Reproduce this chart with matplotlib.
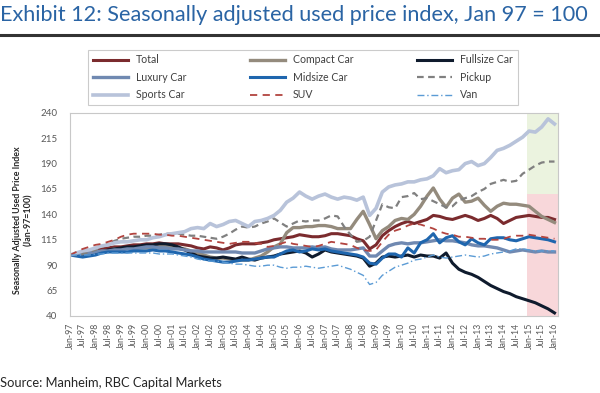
import numpy as np
import pandas as pd
import matplotlib
matplotlib.use("Agg")
import matplotlib.pyplot as plt
from matplotlib.lines import Line2D

plt.rcParams['font.family'] = ['Lato', 'DejaVu Sans']

# quarterly points, Jan-97 .. Jan-16 (index, Jan 97 = 100)
dates = pd.date_range("1997-01-01", "2016-01-01", freq="QS")

total = [100, 101, 102, 103, 105, 106, 107, 108, 108, 109, 110, 110,
         111, 111, 112, 111, 111, 111, 110, 109, 107, 106, 108, 107,
         105, 107, 110, 111, 111, 111, 112, 113, 115, 116, 117, 118,
         120, 119, 118, 118, 119, 121, 121, 120, 119, 116, 114, 106,
         110, 119, 124, 128, 131, 133, 131, 133, 135, 139, 138, 136,
         135, 137, 139, 137, 134, 136, 139, 136, 131, 134, 137, 138,
         139, 138, 137, 137, 135]
compact = [100, 100, 100, 101, 102, 103, 104, 106, 106, 107, 106, 107,
           107, 108, 108, 108, 108, 107, 106, 104, 102, 100, 98, 97,
           97, 96, 95, 95, 95, 97, 99, 103, 108, 111, 122, 127,
           127, 128, 128, 129, 129, 128, 126, 126, 126, 135, 143, 130,
           116, 124, 128, 134, 136, 135, 140, 148, 158, 166, 155, 147,
           156, 160, 152, 153, 156, 149, 143, 148, 151, 150, 150, 149,
           148, 143, 138, 135, 132]
fullsize = [100, 100, 99, 100, 101, 103, 105, 106, 107, 108, 108, 109,
            110, 110, 111, 111, 110, 108, 105, 102, 99, 98, 97, 97,
            98, 97, 96, 98, 96, 95, 97, 98, 99, 101, 102, 103,
            104, 102, 98, 101, 105, 103, 102, 101, 100, 99, 97, 89,
            92, 98, 99, 98, 99, 100, 98, 100, 99, 99, 97, 102,
            92, 86, 83, 81, 78, 74, 70, 67, 64, 62, 59, 57,
            55, 53, 50, 47, 43]
luxury = [100, 100, 101, 102, 103, 104, 104, 105, 105, 106, 106, 107,
          108, 108, 107, 107, 106, 106, 105, 104, 104, 103, 103, 103,
          103, 103, 103, 102, 102, 102, 104, 106, 107, 108, 108, 107,
          107, 107, 108, 107, 108, 106, 105, 105, 105, 106, 107, 99,
          99, 104, 109, 111, 112, 111, 112, 112, 113, 114, 115, 114,
          114, 113, 112, 110, 109, 109, 108, 107, 105, 103, 104, 105,
          104, 103, 104, 103, 103]
midsize = [100, 99, 98, 99, 100, 102, 103, 103, 103, 103, 104, 104,
           104, 105, 104, 104, 103, 102, 101, 100, 98, 96, 95, 94,
           93, 93, 94, 95, 95, 96, 97, 98, 98, 101, 104, 105,
           103, 104, 106, 105, 106, 104, 103, 102, 101, 100, 98, 92,
           91, 97, 101, 101, 98, 107, 102, 112, 115, 121, 112, 117,
           119, 113, 110, 116, 112, 110, 116, 117, 117, 115, 114, 116,
           118, 117, 116, 115, 113]
pickup = [100, 100, 101, 103, 105, 108, 111, 114, 116, 117, 118, 118,
          119, 119, 120, 121, 121, 121, 120, 119, 119, 118, 117, 116,
          118, 121, 125, 128, 127, 128, 131, 133, 136, 132, 128, 131,
          134, 133, 134, 134, 136, 139, 138, 128, 120, 113, 114, 118,
          134, 150, 147, 146, 157, 158, 161, 155, 156, 153, 150, 147,
          148, 154, 156, 158, 162, 165, 170, 172, 174, 172, 173, 180,
          184, 188, 191, 192, 192]
sports = [100, 102, 104, 105, 107, 109, 110, 112, 113, 113, 114, 115,
          115, 117, 118, 120, 121, 122, 123, 126, 127, 126, 131, 128,
          130, 133, 134, 131, 128, 133, 134, 136, 139, 144, 152, 156,
          162, 158, 155, 158, 160, 157, 155, 157, 156, 154, 157, 139,
          146, 162, 167, 169, 170, 172, 172, 174, 175, 178, 185, 181,
          183, 184, 190, 192, 188, 190, 196, 203, 205, 208, 212, 216,
          222, 221, 226, 234, 229]
suv = [100, 103, 106, 108, 110, 111, 113, 115, 118, 120, 121, 121,
       121, 121, 120, 120, 119, 119, 118, 117, 116, 115, 114, 113,
       112, 111, 112, 113, 113, 112, 111, 108, 109, 111, 113, 111,
       110, 109, 108, 109, 111, 113, 112, 111, 110, 107, 105, 104,
       105, 113, 120, 124, 126, 129, 131, 130, 128, 126, 123, 121,
       120, 118, 118, 117, 116, 116, 115, 115, 116, 118, 119, 119,
       120, 119, 118, 117, 116]
van = [100, 100, 100, 100, 101, 101, 102, 102, 102, 102, 102, 102,
       102, 102, 101, 101, 101, 100, 99, 98, 96, 95, 94, 94,
       93, 92, 91, 91, 90, 89, 89, 90, 90, 88, 87, 88,
       88, 89, 88, 87, 88, 89, 90, 88, 86, 83, 80, 71,
       73, 80, 84, 88, 90, 92, 95, 96, 98, 100, 98, 97,
       98, 99, 100, 99, 98, 99, 101, 102, 103, 104, 106, 106,
       105, 104, 104, 104, 104]

shade_start = pd.Timestamp("2014-12-01")

fig = plt.figure(figsize=(6.0, 3.93), dpi=100)
ax = fig.add_axes([0.1167, 0.196, 0.8133, 0.517])

xmin = pd.Timestamp("1997-01-01")
xmax = pd.Timestamp("2016-02-20")
ax.axvspan(shade_start, xmax, ymin=0.6, ymax=1.0, color="#ebf3df", lw=0, zorder=0)
ax.axvspan(shade_start, xmax, ymin=0.0, ymax=0.6, color="#f8d7da", lw=0, zorder=0)

ax.plot(dates, total, color="#7b2b2e", lw=2.2, label="Total")
ax.plot(dates, compact, color="#948b7d", lw=2.4, label="Compact Car")
ax.plot(dates, fullsize, color="#0f1b2d", lw=2.2, label="Fullsize Car")
ax.plot(dates, luxury, color="#7089b1", lw=2.4, label="Luxury Car")
ax.plot(dates, midsize, color="#1f66ae", lw=2.2, label="Midsize Car")
ax.plot(dates, pickup, color="#808080", lw=1.6, ls=(0, (3, 2)), label="Pickup")
ax.plot(dates, sports, color="#b8c3da", lw=2.6, label="Sports Car")
ax.plot(dates, suv, color="#b2443f", lw=1.3, ls=(0, (4, 3)), label="SUV")
ax.plot(dates, van, color="#5b9bd5", lw=1.0, ls=(0, (5, 2, 1, 2)), label="Van")

ax.set_xlim(xmin, xmax)
ax.set_ylim(40, 240)
ax.set_yticks(np.arange(40, 241, 25))

ticks = pd.date_range("1997-01-01", "2016-01-01", freq="6MS")
ax.set_xticks(ticks)
ax.set_xticklabels([d.strftime("%b-%y") for d in ticks], rotation=90,
                   fontsize=6.3, color="#595959")
ax.tick_params(axis="y", labelsize=7, colors="#595959", length=0, pad=9)
ax.tick_params(axis="x", length=0, pad=5)
for s in ax.spines.values():
    s.set_color("#c8c8c8")
    s.set_linewidth(0.8)

fig.text(0.038, 0.44, "Seasonally Adjusted Used Price Index\n(Jan-97=100)",
         rotation=90, ha="center", va="center", fontsize=6.4,
         fontweight="bold", color="#262626", linespacing=1.3)

# legend: matplotlib fills by column, reference reads by row
h, l = ax.get_legend_handles_labels()
order = [0, 3, 6, 1, 4, 7, 2, 5, 8]
leg = fig.legend([h[i] for i in order], [l[i] for i in order], ncol=3,
                 loc="center", bbox_to_anchor=(0.505, 0.803), fontsize=7.6,
                 handlelength=3.3, columnspacing=6.0, labelspacing=0.62,
                 frameon=True, fancybox=False, borderpad=0.45)
leg.get_frame().set_edgecolor("#bfbfbf")
leg.get_frame().set_linewidth(0.8)
for t in leg.get_texts():
    t.set_color("#404040")

fig.text(0.0, 0.963, "Exhibit 12: Seasonally adjusted used price index, Jan 97 = 100",
         fontsize=15.6, color="#2a64a4", ha="left", va="center")
fig.add_artist(Line2D([0, 1], [0.912, 0.912], color="#333333", lw=2.2,
                      transform=fig.transFigure))
fig.text(0.0, 0.025, "Source: Manheim, RBC Capital Markets", fontsize=9.3,
         color="#262626", ha="left", va="center")

fig.savefig("out.png", dpi=100)
